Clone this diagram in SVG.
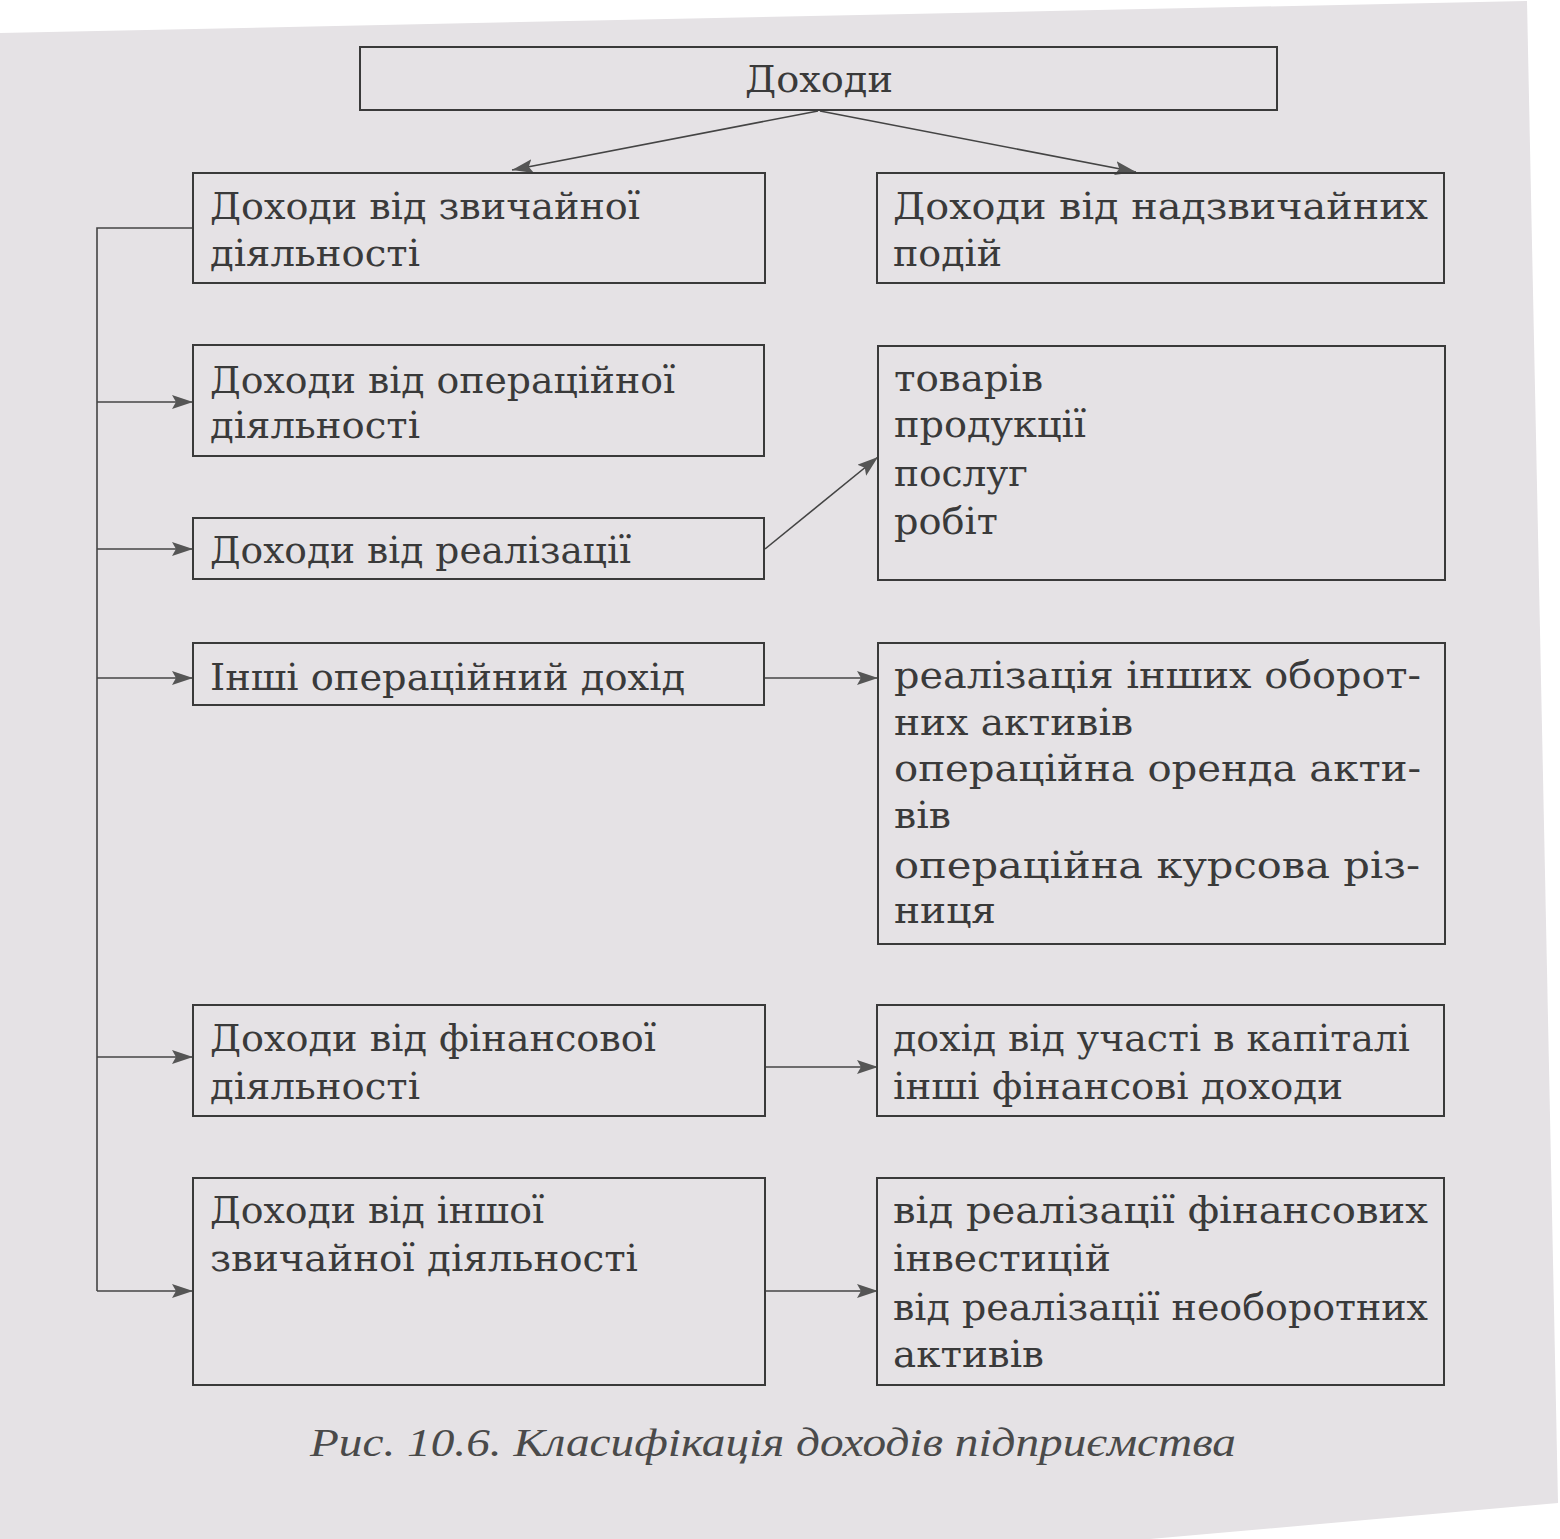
<svg xmlns="http://www.w3.org/2000/svg" width="1560" height="1539" viewBox="0 0 1560 1539">
<defs>
<marker id="ah" markerUnits="userSpaceOnUse" markerWidth="22" markerHeight="16" refX="21" refY="7" orient="auto">
<path d="M0,0 L21,7 L0,14 L4,7 z" fill="#555"/>
</marker>
<style>
.box{fill:none;stroke:#3a3a3a;stroke-width:2}
.t{font-family:"DejaVu Serif","Liberation Serif",serif;font-size:37px;fill:#3a3a3a}
.c{stroke:#444;stroke-width:1.6;fill:none}
.cap{font-family:"Liberation Serif","DejaVu Serif",serif;font-style:italic;font-size:40px;fill:#4a4a4a}
</style>
</defs>
<rect width="1560" height="1539" fill="#ffffff"/>
<polygon points="0,33 1527,1 1558,1503 1150,1539 0,1539" fill="#e5e2e5"/>

<g id="connectors">
<path class="c" d="M818,111 L512,170" marker-end="url(#ah)"/>
<path class="c" d="M820,111 L1136,172" marker-end="url(#ah)"/>
<path class="c" d="M193,228 H97 V1291"/>
<path class="c" d="M97,402 H193" marker-end="url(#ah)"/>
<path class="c" d="M97,549 H193" marker-end="url(#ah)"/>
<path class="c" d="M97,678 H193" marker-end="url(#ah)"/>
<path class="c" d="M97,1057 H193" marker-end="url(#ah)"/>
<path class="c" d="M97,1291 H193" marker-end="url(#ah)"/>
<path class="c" d="M765,549 L878,457" marker-end="url(#ah)"/>
<path class="c" d="M765,678 H878" marker-end="url(#ah)"/>
<path class="c" d="M765,1067 H878" marker-end="url(#ah)"/>
<path class="c" d="M765,1291 H878" marker-end="url(#ah)"/>
</g>

<g id="n-dohody">
<rect class="box" x="360" y="47" width="917" height="63"/>
<text class="t" x="745" y="92" textLength="148" lengthAdjust="spacingAndGlyphs">Доходи</text>
</g>

<g id="n-zvychaina">
<rect class="box" x="193" y="173" width="572" height="110"/>
<text class="t" x="210" y="219" textLength="430" lengthAdjust="spacingAndGlyphs">Доходи від звичайної</text>
<text class="t" x="210" y="266" textLength="210" lengthAdjust="spacingAndGlyphs">діяльності</text>
</g>

<g id="n-nadzvychaini">
<rect class="box" x="877" y="173" width="567" height="110"/>
<text class="t" x="893" y="219" textLength="535" lengthAdjust="spacingAndGlyphs">Доходи від надзвичайних</text>
<text class="t" x="893" y="266" textLength="109" lengthAdjust="spacingAndGlyphs">подій</text>
</g>

<g id="n-operatsiina">
<rect class="box" x="193" y="345" width="571" height="111"/>
<text class="t" x="210" y="393" textLength="465" lengthAdjust="spacingAndGlyphs">Доходи від операційної</text>
<text class="t" x="210" y="438" textLength="210" lengthAdjust="spacingAndGlyphs">діяльності</text>
</g>

<g id="n-realizatsiia">
<rect class="box" x="193" y="518" width="571" height="61"/>
<text class="t" x="210" y="563" textLength="421" lengthAdjust="spacingAndGlyphs">Доходи від реалізації</text>
</g>

<g id="n-realizatsiia-vydy">
<rect class="box" x="878" y="346" width="567" height="234"/>
<text class="t" x="894" y="391" textLength="149" lengthAdjust="spacingAndGlyphs">товарів</text>
<text class="t" x="894" y="437" textLength="192" lengthAdjust="spacingAndGlyphs">продукції</text>
<text class="t" x="894" y="486" textLength="134" lengthAdjust="spacingAndGlyphs">послуг</text>
<text class="t" x="894" y="534" textLength="104" lengthAdjust="spacingAndGlyphs">робіт</text>
</g>

<g id="n-inshi-operatsiini">
<rect class="box" x="193" y="643" width="571" height="62"/>
<text class="t" x="210" y="690" textLength="475" lengthAdjust="spacingAndGlyphs">Інші операційний дохід</text>
</g>

<g id="n-inshi-operatsiini-vydy">
<rect class="box" x="878" y="643" width="567" height="301"/>
<text class="t" x="894" y="688" textLength="527" lengthAdjust="spacingAndGlyphs">реалізація інших оборот-</text>
<text class="t" x="894" y="735" textLength="239" lengthAdjust="spacingAndGlyphs">них активів</text>
<text class="t" x="894" y="781" textLength="527" lengthAdjust="spacingAndGlyphs">операційна оренда акти-</text>
<text class="t" x="894" y="828" textLength="57" lengthAdjust="spacingAndGlyphs">вів</text>
<text class="t" x="894" y="878" textLength="526" lengthAdjust="spacingAndGlyphs">операційна курсова різ-</text>
<text class="t" x="894" y="923" textLength="102" lengthAdjust="spacingAndGlyphs">ниця</text>
</g>

<g id="n-finansova">
<rect class="box" x="193" y="1005" width="572" height="111"/>
<text class="t" x="210" y="1051" textLength="446" lengthAdjust="spacingAndGlyphs">Доходи від фінансової</text>
<text class="t" x="210" y="1099" textLength="210" lengthAdjust="spacingAndGlyphs">діяльності</text>
</g>

<g id="n-finansova-vydy">
<rect class="box" x="877" y="1005" width="567" height="111"/>
<text class="t" x="893" y="1051" textLength="517" lengthAdjust="spacingAndGlyphs">дохід від участі в капіталі</text>
<text class="t" x="893" y="1099" textLength="450" lengthAdjust="spacingAndGlyphs">інші фінансові доходи</text>
</g>

<g id="n-insha-zvychaina">
<rect class="box" x="193" y="1178" width="572" height="207"/>
<text class="t" x="210" y="1223" textLength="334" lengthAdjust="spacingAndGlyphs">Доходи від іншої</text>
<text class="t" x="210" y="1271" textLength="428" lengthAdjust="spacingAndGlyphs">звичайної діяльності</text>
</g>

<g id="n-insha-zvychaina-vydy">
<rect class="box" x="877" y="1178" width="567" height="207"/>
<text class="t" x="893" y="1223" textLength="535" lengthAdjust="spacingAndGlyphs">від реалізації фінансових</text>
<text class="t" x="893" y="1271" textLength="218" lengthAdjust="spacingAndGlyphs">інвестицій</text>
<text class="t" x="893" y="1320" textLength="535" lengthAdjust="spacingAndGlyphs">від реалізації необоротних</text>
<text class="t" x="893" y="1367" textLength="151" lengthAdjust="spacingAndGlyphs">активів</text>
</g>

<text class="cap" x="310" y="1456" textLength="926" lengthAdjust="spacingAndGlyphs">Рис. 10.6. Класифікація доходів підприємства</text>
</svg>
